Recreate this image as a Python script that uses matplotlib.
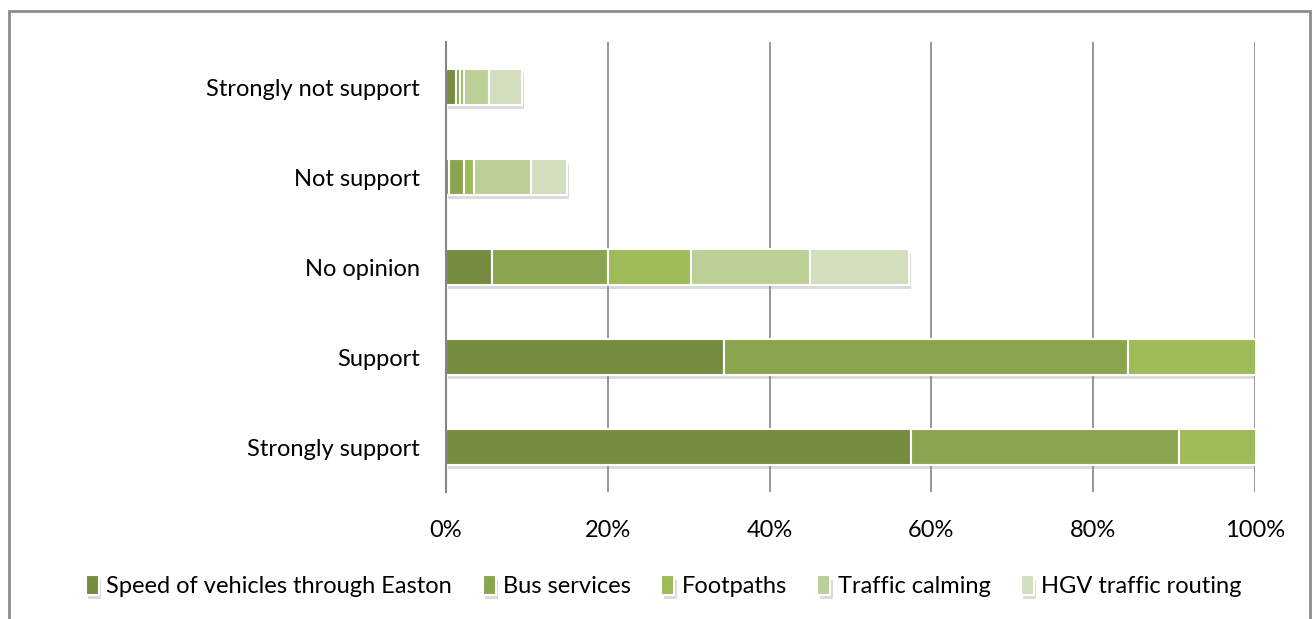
import matplotlib
matplotlib.use('Agg')
import matplotlib.pyplot as plt
import matplotlib.patheffects as pe
from matplotlib.patches import Rectangle
import numpy as np

# categories from bottom to top
categories = ['Strongly support', 'Support', 'No opinion', 'Not support', 'Strongly not support']
series_names = ['Speed of vehicles through Easton', 'Bus services', 'Footpaths',
                'Traffic calming', 'HGV traffic routing']

# percent of responses per topic (each topic sums to ~100)
speed = [57.5, 34.4, 5.7, 0.4, 1.2]
bus = [33.1, 49.9, 14.3, 1.85, 0.5]
footpaths = [45.0, 43.0, 10.3, 1.2, 0.55]
traffic_calming = [35.0, 40.3, 14.7, 7.0, 3.1]
hgv_routing = [40.0, 39.5, 12.2, 4.5, 4.0]

colors = ['#768D40', '#89A54F', '#9DBB59', '#BBCF97', '#D2DEBE']

plt.rcParams['font.family'] = ['Lato', 'DejaVu Sans']
fs = 17

fig = plt.figure(figsize=(13.14, 6.19), dpi=100)
ax = fig.add_axes([446 / 1314, 1 - 492 / 619, (1255 - 446) / 1314, (492 - 42) / 619])

# chart area border
fig.patches.append(Rectangle((8.5 / 1314, -0.05), (1310 - 8.5) / 1314, 1.05 - 11 / 619,
                             transform=fig.transFigure, fill=False, edgecolor='#8C8C8C', lw=2))

y = np.arange(len(categories))
left = np.zeros(len(categories))
shadow = [pe.SimplePatchShadow(offset=(1.5, -3.5), shadow_rgbFace='#888888', alpha=0.3), pe.Normal()]
for name, vals, c in zip(series_names, [speed, bus, footpaths, traffic_calming, hgv_routing], colors):
    bars = ax.barh(y, vals, left=left, height=0.39, color=c, edgecolor='white', linewidth=1.5,
                   label=name, zorder=3)
    for b in bars:
        b.set_path_effects(shadow)
    left += np.array(vals)

ax.set_xlim(0, 100)
ax.set_ylim(-0.5, 4.5)
ax.set_xticks(range(0, 101, 20))
ax.set_xticklabels([f'{v}%' for v in range(0, 101, 20)], fontsize=fs)
ax.set_yticks(y)
ax.set_yticklabels(categories, fontsize=fs)
ax.tick_params(axis='y', length=0, pad=19)
ax.tick_params(axis='x', length=0, pad=20)
ax.grid(axis='x', color='#868686', lw=1.2, zorder=0)
for s in ['top', 'right', 'bottom']:
    ax.spines[s].set_visible(False)
ax.spines['left'].set_color('#868686')
ax.spines['left'].set_linewidth(1.5)
ax.spines['left'].set_zorder(4)

leg = ax.legend(loc='center', bbox_to_anchor=(664 / 1314, 1 - 586 / 619),
                bbox_transform=fig.transFigure, ncol=5, frameon=False, fontsize=fs,
                handlelength=0.55, handleheight=0.9, handletextpad=0.3, columnspacing=1.3)

fig.savefig('out.png', dpi=100)
